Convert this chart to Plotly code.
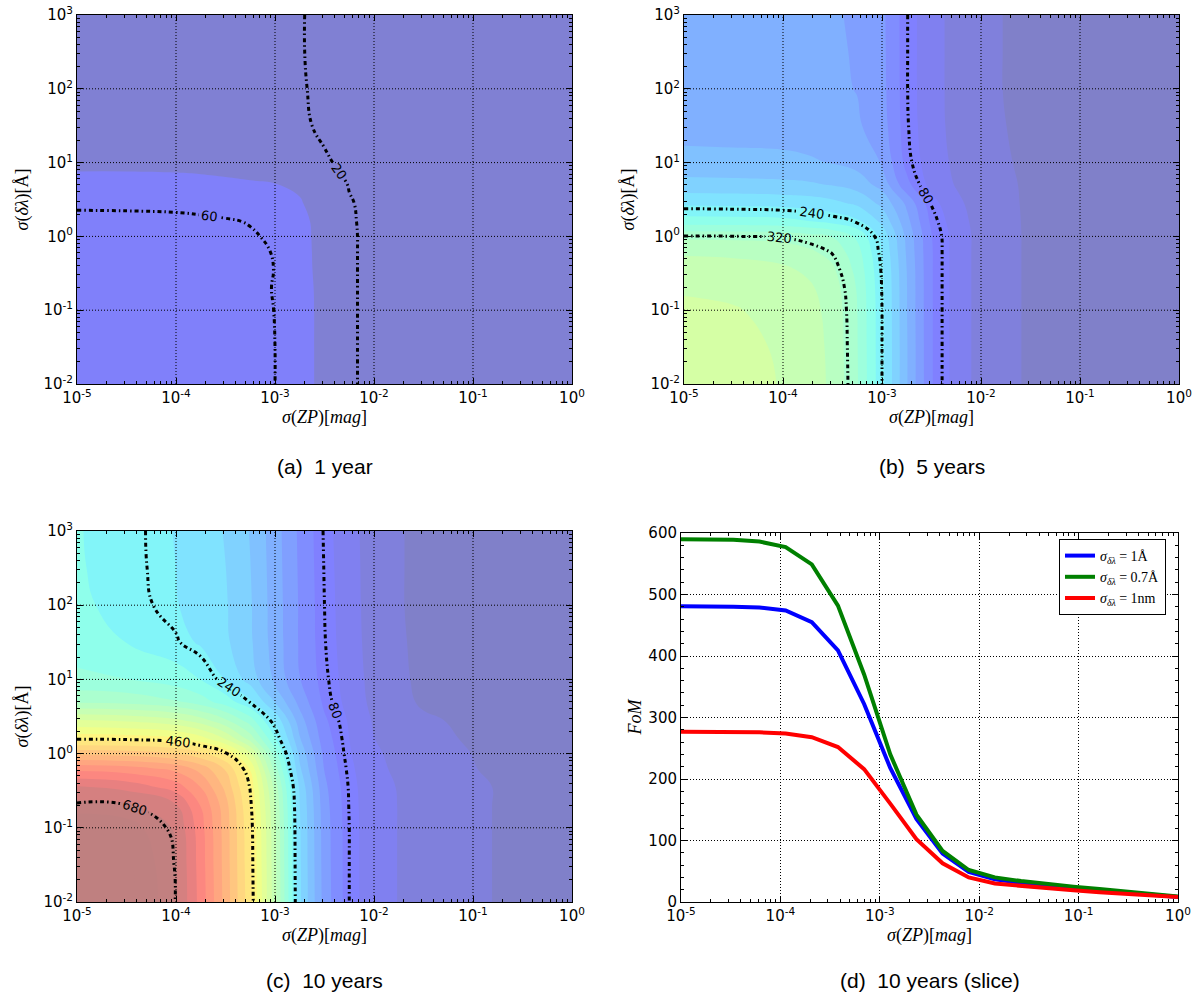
import numpy as np
import plotly.graph_objects as go

# ---------------- data ----------------
# grid of sigma(ZP) [mag] and sigma(delta lambda) [A]
sigma_zp = [1e-5, 3.162e-5, 1e-4, 1.778e-4, 3.162e-4, 5.623e-4, 1e-3, 1.778e-3,
            3.162e-3, 5.623e-3, 1e-2, 3.162e-2, 1e-1, 3.162e-1, 1.0]
sigma_dl = [0.01, 0.03162, 0.1, 0.1995, 0.3548, 0.631, 1.0, 1.585, 2.818,
            5.012, 10.0, 31.62, 100.0, 316.2, 1000.0]

# FoM grids, rows follow sigma_dl (bottom to top), columns follow sigma_zp
fom_1yr = [
    [73, 72.5, 71, 69.5, 67, 64, 60, 53, 42, 23, 14, 11, 9, 7, 5],
    [73, 72.5, 71, 69.5, 67, 64, 60, 53, 42, 23, 14, 11, 9, 7, 5],
    [72.5, 72, 70.5, 69, 66.5, 63.5, 59.8, 53, 42, 23, 14, 11, 9, 7, 5],
    [72, 71.5, 70, 68.5, 66, 63, 59.5, 52.5, 42, 23, 14, 11, 9, 7, 5],
    [71, 70.5, 69, 67.5, 65, 63, 59.8, 52, 41.5, 23, 14, 11, 9, 7, 5],
    [70, 69.5, 68, 66.5, 64, 62, 59.5, 52, 41, 23, 14, 11, 9, 7, 5],
    [68, 67.5, 66, 64.5, 62.5, 61, 58.5, 51.5, 41, 23, 14, 11, 9, 7, 5],
    [64, 63.8, 63, 62, 61, 59.5, 57, 51, 40.5, 22.5, 14, 11, 9, 7, 5],
    [57.5, 57.3, 57, 56.5, 55.5, 54.5, 52.5, 48, 38, 21.5, 14, 11, 9, 7, 5],
    [49, 49, 48.8, 48.5, 48, 47.5, 47, 44, 33, 19, 13, 10.5, 8.5, 7, 5],
    [45, 45, 44.8, 44.5, 44, 43, 41, 34, 22, 16, 12, 10, 8, 6.5, 5],
    [42.5, 42.5, 42.3, 42, 41.5, 40, 36, 23, 17, 14, 11.5, 9.5, 8, 6.5, 5],
    [41, 41, 40.8, 40.5, 40, 38.5, 34, 21.5, 16.5, 13.5, 11.5, 9.5, 8, 6.5, 5],
    [40.5, 40.5, 40.3, 40, 39.5, 38, 33.5, 21, 16, 13.5, 11.5, 9.5, 8, 6.5, 5],
    [40, 40, 39.8, 39.5, 39, 37.5, 33, 21, 16, 13.5, 11.5, 9.5, 8, 6.5, 5],
]
fom_5yr = [
    [380, 378, 372, 362, 345, 305, 240, 165, 95, 60, 38, 20, 14, 10, 6],
    [379, 377, 371, 361, 344, 304, 240, 165, 95, 60, 38, 20, 14, 10, 6],
    [376, 374, 368, 358, 342, 303, 240, 164, 95, 60, 38, 20, 14, 10, 6],
    [371, 369, 363, 354, 338, 301, 239, 164, 95, 60, 38, 20, 14, 10, 6],
    [362, 360, 354, 345, 330, 296, 237, 163, 95, 60, 38, 20, 14, 10, 6],
    [345, 343, 338, 330, 318, 288, 232, 160, 95, 60, 38, 20, 14, 10, 6],
    [321, 320.5, 318, 312, 302, 275, 225, 157, 94, 60, 38, 20, 14, 10, 6],
    [268, 267, 264, 258, 250, 238, 205, 148, 88, 57, 37, 20, 14, 10, 6],
    [228, 227, 225, 222, 216, 205, 180, 135, 78, 52, 35, 20, 14, 10, 6],
    [195, 194, 192, 190, 185, 176, 155, 100, 62, 45, 33, 20, 14, 10, 6],
    [170, 169, 168, 166, 162, 155, 138, 86, 58, 42, 31, 19, 13, 10, 6],
    [155, 154.5, 154, 152, 149, 143, 127, 82, 55, 40, 30, 17, 12, 9, 6],
    [150, 149.5, 149, 147, 144, 139, 124, 81, 54, 40, 29, 16, 12, 9, 6],
    [149, 148.5, 148, 146, 143, 138, 123, 81, 54, 40, 29, 16, 12, 9, 6],
    [148, 147.5, 147, 145, 142, 137, 122, 81, 54, 40, 29, 16, 12, 9, 6],
]
fom_10yr = [
    [745, 733, 679, 620, 550, 474, 358, 214, 130, 80, 55, 37, 26, 19, 10],
    [740, 728, 678, 618, 549, 472, 357, 213, 129, 80, 55, 37, 26, 19, 10],
    [725, 712, 672, 615, 548, 470, 355, 212, 128, 80, 55, 37, 26, 19, 10],
    [684, 681, 655, 605, 545, 465, 350, 210, 126, 79, 55, 37, 26, 19, 10],
    [655, 645, 618, 582, 530, 458, 340, 205, 122, 78, 54, 37, 26, 19, 10],
    [598, 592, 575, 550, 510, 440, 315, 190, 115, 75, 52, 33, 24, 16, 9],
    [530, 526, 512, 495, 465, 400, 290, 180, 110, 72, 50, 31, 23, 15, 9],
    [458, 456, 448, 430, 395, 340, 258, 165, 104, 70, 47, 29, 21, 13, 8],
    [397, 392, 378, 360, 330, 290, 228, 150, 97, 67, 44, 27, 18, 12, 8],
    [322, 318, 305, 290, 268, 238, 185, 132, 88, 62, 40, 20, 15, 11, 8],
    [285, 280, 268, 256, 232, 200, 158, 117, 84, 60, 38, 18, 14, 11, 8],
    [268, 256, 242, 230, 214, 190, 153, 114, 81, 58, 36, 17, 13, 10, 8],
    [262, 247, 234, 226, 212, 189, 152, 114, 80, 57, 35, 16, 13, 10, 8],
    [259, 245, 233, 225, 210, 187, 151, 113, 79, 56, 35, 16, 13, 10, 8],
    [258, 245, 232, 222, 208, 185, 150, 112, 78, 55, 35, 16, 13, 10, 8],
]
line_levels_1yr = [20, 60]
line_levels_5yr = [80, 240, 320]
line_levels_10yr = [80, 240, 460, 680]

# slice at 10 years
slice_zp = [1e-5, 1.833e-5, 3.360e-5, 6.158e-5, 1.129e-4, 2.069e-4, 3.793e-4,
            6.952e-4, 1.274e-3, 2.336e-3, 4.281e-3, 7.848e-3, 1.438e-2,
            2.637e-2, 4.833e-2, 8.859e-2, 0.1624, 0.2976, 0.5456, 1.0]
fom_1A = [481, 481, 480, 479, 474, 455, 409, 322, 218, 135, 79, 49, 37, 31,
          27, 23, 19, 15, 12, 8]
fom_07A = [590, 590, 589, 586, 577, 549, 482, 370, 240, 142, 83, 52, 40, 34,
           29, 25, 21, 17, 13, 9]
fom_1nm = [277, 277, 277, 276, 274, 268, 252, 216, 160, 102, 63, 40, 30, 26,
           22, 19, 16, 13, 10, 8]
slice_names = ["<i>σ</i><sub><i>δλ</i></sub> = 1Å",
               "<i>σ</i><sub><i>δλ</i></sub> = 0.7Å",
               "<i>σ</i><sub><i>δλ</i></sub> = 1nm"]

x_tickvals = [1e-5, 1e-4, 1e-3, 1e-2, 1e-1, 1]
x_ticktext = ["10<sup>-5</sup>", "10<sup>-4</sup>", "10<sup>-3</sup>",
              "10<sup>-2</sup>", "10<sup>-1</sup>", "10<sup>0</sup>"]
y_tickvals = [1e-2, 1e-1, 1, 10, 100, 1000]
y_ticktext = ["10<sup>-2</sup>", "10<sup>-1</sup>", "10<sup>0</sup>",
              "10<sup>1</sup>", "10<sup>2</sup>", "10<sup>3</sup>"]
captions = ["(a)  1 year", "(b)  5 years", "(c)  10 years", "(d)  10 years (slice)"]
x_title = "<i>σ</i>(<i>ZP</i>)[<i>mag</i>]"
y_title = "<i>σ</i>(<i>δλ</i>)[Å]"
fom_title = "<i>FoM</i>"

# ---------------- style ----------------
VMAX = 690.0

def jet_blend(v):
    r = np.interp(v, [0, 0.35, 0.66, 0.89, 1], [0, 0, 1, 1, 0.5])
    g = np.interp(v, [0, 0.125, 0.375, 0.64, 0.91, 1], [0, 0, 1, 1, 0, 0])
    b = np.interp(v, [0, 0.11, 0.34, 0.65, 1], [0.5, 1, 1, 0, 0])
    a = 0.5
    c = [int(round(255 * (a * ch + (1 - a)))) for ch in (r, g, b)]
    return "rgb(%d,%d,%d)" % tuple(c)

def panel_scale(start, size, end):
    # plotly colours the band [L, L+size] with colormap(L + size/2);
    # map that band midpoint onto one common jet scale (0 .. VMAX)
    lo, hi = start - size / 2.0, end + size / 2.0
    out = []
    for p in np.linspace(0, 1, 301):
        v = lo + p * (hi - lo)
        out.append([float(p), jet_blend(min(max(v / VMAX, 0.0), 1.0))])
    return out

FILL_LEVELS = {"x": (46.6, 46.6, 93.2), "x2": (23.3, 23.3, 722.3), "x3": (23.3, 23.3, 722.3)}

TICKFONT = dict(family="DejaVu Sans", size=15, color="black")
MATHFONT = dict(family="Liberation Serif", size=18, color="black")
LINE_DASH = "4px,3px,1.5px,3px"

fig = go.Figure()

panels = [
    ("x", "y", fom_1yr, line_levels_1yr),
    ("x2", "y2", fom_5yr, line_levels_5yr),
    ("x3", "y3", fom_10yr, line_levels_10yr),
]
for xa, ya, z, levels in panels:
    s, cs, e = FILL_LEVELS[xa]
    fig.add_trace(go.Contour(
        x=sigma_zp, y=sigma_dl, z=z, xaxis=xa, yaxis=ya,
        colorscale=panel_scale(s, cs, e), autocontour=False,
        contours=dict(start=s, end=e, size=cs, coloring="fill", showlines=False),
        line=dict(width=0, smoothing=1.3), showscale=False, hoverinfo="skip",
        showlegend=False))
    for lv in levels:
        fig.add_trace(go.Contour(
            x=sigma_zp, y=sigma_dl, z=z, xaxis=xa, yaxis=ya,
            autocontour=False,
            contours=dict(start=lv, end=lv, size=1, coloring="none",
                          showlabels=True,
                          labelfont=dict(family="DejaVu Sans", size=13, color="black")),
            line=dict(color="black", width=3, dash=LINE_DASH, smoothing=1.3),
            showscale=False, hoverinfo="skip", showlegend=False))

slice_colors = ["rgb(0,0,255)", "rgb(0,128,0)", "rgb(255,0,0)"]
for vals, name, col in zip([fom_1A, fom_07A, fom_1nm], slice_names, slice_colors):
    fig.add_trace(go.Scatter(x=slice_zp, y=vals, mode="lines", name=name,
                             line=dict(color=col, width=4),
                             xaxis="x4", yaxis="y4"))

# ---------------- axes ----------------
minor_x = [m * 10.0 ** e for e in range(-5, 0) for m in range(2, 10)]
minor_y = [m * 10.0 ** e for e in range(-2, 3) for m in range(2, 10)]

def log_x(domain, anchor):
    return dict(domain=domain, anchor=anchor, type="log", range=[-5, 0],
                tickmode="array", tickvals=x_tickvals, ticktext=x_ticktext,
                tickfont=TICKFONT, ticks="inside", ticklen=6, tickcolor="black",
                showline=True, linecolor="black", linewidth=1, mirror="allticks",
                showgrid=False, zeroline=False, automargin=False,
                minor=dict(tickmode="array", tickvals=minor_x, ticks="inside",
                           ticklen=3, tickcolor="black", showgrid=False),
                title=dict(text=x_title, font=MATHFONT, standoff=2))

def log_y(domain, anchor):
    return dict(domain=domain, anchor=anchor, type="log", range=[-2, 3],
                tickmode="array", tickvals=y_tickvals, ticktext=y_ticktext,
                tickfont=TICKFONT, ticks="inside", ticklen=6, tickcolor="black",
                showline=True, linecolor="black", linewidth=1, mirror="allticks",
                showgrid=False, zeroline=False, automargin=False,
                minor=dict(tickmode="array", tickvals=minor_y, ticks="inside",
                           ticklen=3, tickcolor="black", showgrid=False))

XA = [77 / 1203, 572 / 1203]
XB = [684 / 1203, 1179 / 1203]
XD = [681 / 1203, 1178 / 1203]
YT = [1 - 384 / 1001, 1 - 15 / 1001]
YC = [1 - 902 / 1001, 1 - 531 / 1001]
YD = [1 - 902 / 1001, 1 - 533 / 1001]

fig.update_layout(
    width=1203, height=1001,
    margin=dict(l=0, r=0, t=0, b=0, autoexpand=False),
    paper_bgcolor="white", plot_bgcolor="white",
    xaxis=log_x(XA, "y"), yaxis=log_y(YT, "x"),
    xaxis2=log_x(XB, "y2"), yaxis2=log_y(YT, "x2"),
    xaxis3=log_x(XA, "y3"), yaxis3=log_y(YC, "x3"),
    xaxis4=dict(domain=XD, anchor="y4", type="log", range=[-5, 0],
                tickmode="array", tickvals=x_tickvals, ticktext=x_ticktext,
                tickfont=TICKFONT, ticks="inside", ticklen=6, tickcolor="black",
                showline=True, linecolor="black", linewidth=1, mirror="allticks",
                showgrid=True, gridcolor="black", gridwidth=1, griddash="1px,2px",
                zeroline=False, automargin=False,
                minor=dict(tickmode="array", tickvals=minor_x, ticks="inside",
                           ticklen=3, tickcolor="black", showgrid=False),
                title=dict(text=x_title, font=MATHFONT, standoff=2)),
    yaxis4=dict(domain=YD, anchor="x4", range=[0, 600], dtick=100,
                tickfont=TICKFONT, ticks="inside", ticklen=6, tickcolor="black",
                showline=True, linecolor="black", linewidth=1, mirror="allticks",
                showgrid=True, gridcolor="black", gridwidth=1, griddash="1px,2px",
                zeroline=False, automargin=False,
                minor=dict(dtick=20, ticks="inside", ticklen=3, tickcolor="black",
                           showgrid=False)),
    showlegend=True,
    legend=dict(x=1166 / 1203, y=1 - 539 / 1001, xanchor="right", yanchor="top",
                bgcolor="white", bordercolor="black", borderwidth=1,
                font=dict(family="Liberation Serif", size=14, color="black"),
                tracegroupgap=0, itemwidth=30),
)

# dotted grid drawn above the filled contours
shapes = []
for xa, ya in [("x", "y"), ("x2", "y2"), ("x3", "y3")]:
    for xv in x_tickvals[1:-1]:
        shapes.append(dict(type="line", xref=xa, yref=ya + " domain", x0=xv, x1=xv,
                           y0=0, y1=1, layer="above",
                           line=dict(color="black", width=1, dash="1px,2px")))
    for yv in y_tickvals[1:-1]:
        shapes.append(dict(type="line", xref=xa + " domain", yref=ya, x0=0, x1=1,
                           y0=yv, y1=yv, layer="above",
                           line=dict(color="black", width=1, dash="1px,2px")))
fig.update_layout(shapes=shapes)

# y-axis titles (rotated), placed like the reference
ytitle_pos = [(y_title, 22 / 1203, (YT[0] + YT[1]) / 2),
              (y_title, 628 / 1203, (YT[0] + YT[1]) / 2),
              (y_title, 22 / 1203, (YC[0] + YC[1]) / 2),
              (fom_title, 634 / 1203, (YD[0] + YD[1]) / 2)]
for txt, tx, ty in ytitle_pos:
    fig.add_annotation(text=txt, x=tx, y=ty, xref="paper", yref="paper",
                       showarrow=False, textangle=-90, xanchor="center",
                       yanchor="middle", font=MATHFONT)

# sub-figure captions
cap_pos = [((XA[0] + XA[1]) / 2, 1 - 466 / 1001), ((XB[0] + XB[1]) / 2, 1 - 466 / 1001),
           ((XA[0] + XA[1]) / 2, 1 - 980 / 1001), ((XD[0] + XD[1]) / 2, 1 - 980 / 1001)]
for txt, (cx, cy) in zip(captions, cap_pos):
    fig.add_annotation(text=txt, x=cx, y=cy, xref="paper", yref="paper",
                       showarrow=False, xanchor="center", yanchor="middle",
                       font=dict(family="Liberation Sans", size=21, color="black"))

fig.write_html("out.html", config={"displayModeBar": False},
               post_script="document.body.style.margin='0px';")
